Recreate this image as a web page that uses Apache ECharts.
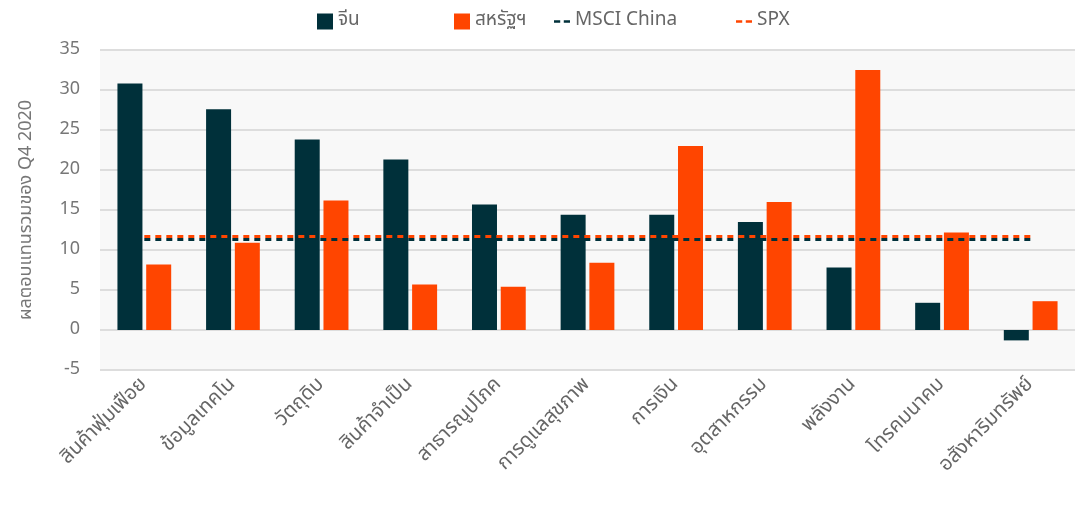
<!DOCTYPE html>
<html>
<head>
<meta charset="utf-8">
<script src="https://cdn.jsdelivr.net/npm/echarts@6/dist/echarts.min.js"></script>
<style>
  html, body { margin: 0; padding: 0; background: #fff; }
  #chart { width: 1083px; height: 506px; }
</style>
</head>
<body>
<div id="chart"></div>
<script>
// หมวดอุตสาหกรรม
const sectors = ['สินค้าฟุ่มเฟือย', 'ข้อมูลเทคโน', 'วัตถุดิบ', 'สินค้าจำเป็น', 'สาธารณูปโภค',
  'การดูแลสุขภาพ', 'การเงิน', 'อุตสาหกรรม', 'พลังงาน', 'โทรคมนาคม', 'อสังหาริมทรัพย์'];
// ผลตอบแทน Q4 2020 (%)
const chinaValues = [30.8, 27.6, 23.8, 21.3, 15.7, 14.4, 14.4, 13.5, 7.8, 3.4, -1.3];
const usValues = [8.2, 10.9, 16.2, 5.7, 5.4, 8.4, 23.0, 16.0, 32.5, 12.2, 3.6];
// ค่าเฉลี่ยดัชนี
const msciChina = [11.3, 11.3, 11.3, 11.3, 11.3, 11.3, 11.3, 11.3, 11.3, 11.3, 11.3];
const spx = [11.7, 11.7, 11.7, 11.7, 11.7, 11.7, 11.7, 11.7, 11.7, 11.7, 11.7];

const darkTeal = '#00303A';
const orange = '#FF4500';
const thaiFont = 'Tahoma, "Noto Sans Thai", "Noto Sans", sans-serif';
// ไอคอนเส้นประสำหรับ legend
const dashIcon = 'path://M0,0h7v3h-7z M11,0h7v3h-7z';

// legend แยกแต่ละรายการเพื่อจัดตำแหน่งเหมือนต้นฉบับ
function legendItem (left, item) {
  return {
    top: 7,
    left: left,
    itemWidth: 16,
    itemHeight: 16,
    textStyle: { fontSize: 19, color: '#666', fontFamily: thaiFont },
    data: [item]
  };
}

const option = {
  animation: false,
  textStyle: { fontFamily: thaiFont },
  legend: [
    legendItem(312, { name: 'จีน', icon: 'rect' }),
    legendItem(449, { name: 'สหรัฐฯ', icon: 'rect' }),
    legendItem(549, { name: 'MSCI China', icon: dashIcon, itemStyle: { color: darkTeal } }),
    legendItem(731, { name: 'SPX', icon: dashIcon, itemStyle: { color: orange } })
  ],
  grid: {
    left: 100,
    right: 8,
    top: 50,
    bottom: 136,
    show: true,
    backgroundColor: '#F8F8F8',
    borderWidth: 0
  },
  xAxis: {
    type: 'category',
    data: sectors,
    axisLine: { show: false },
    axisTick: { show: false },
    axisLabel: {
      rotate: 45,
      fontSize: 20,
      color: '#666',
      margin: 12,
      interval: 0
    }
  },
  yAxis: {
    type: 'value',
    min: -5,
    max: 35,
    interval: 5,
    name: 'ผลตอบแทนรวมของ Q4 2020',
    nameLocation: 'middle',
    nameGap: 64,
    nameTextStyle: { fontSize: 18, color: '#777' },
    axisLabel: { fontSize: 18, color: '#777', margin: 20 },
    splitLine: { lineStyle: { color: '#DDDDDD', width: 2 } }
  },
  series: [
    {
      name: 'จีน',
      type: 'bar',
      data: chinaValues,
      barWidth: 25,
      barGap: '15%',
      itemStyle: { color: darkTeal }
    },
    {
      name: 'สหรัฐฯ',
      type: 'bar',
      data: usValues,
      barWidth: 25,
      itemStyle: { color: orange }
    },
    {
      name: 'MSCI China',
      type: 'line',
      data: msciChina,
      symbol: 'none',
      lineStyle: { color: darkTeal, width: 3, type: [6, 5] },
      itemStyle: { color: darkTeal },
      z: 5
    },
    {
      name: 'SPX',
      type: 'line',
      data: spx,
      symbol: 'none',
      lineStyle: { color: orange, width: 3, type: [6, 5] },
      itemStyle: { color: orange },
      z: 5
    }
  ]
};

const chart = echarts.init(document.getElementById('chart'));
chart.setOption(option);
</script>
</body>
</html>
